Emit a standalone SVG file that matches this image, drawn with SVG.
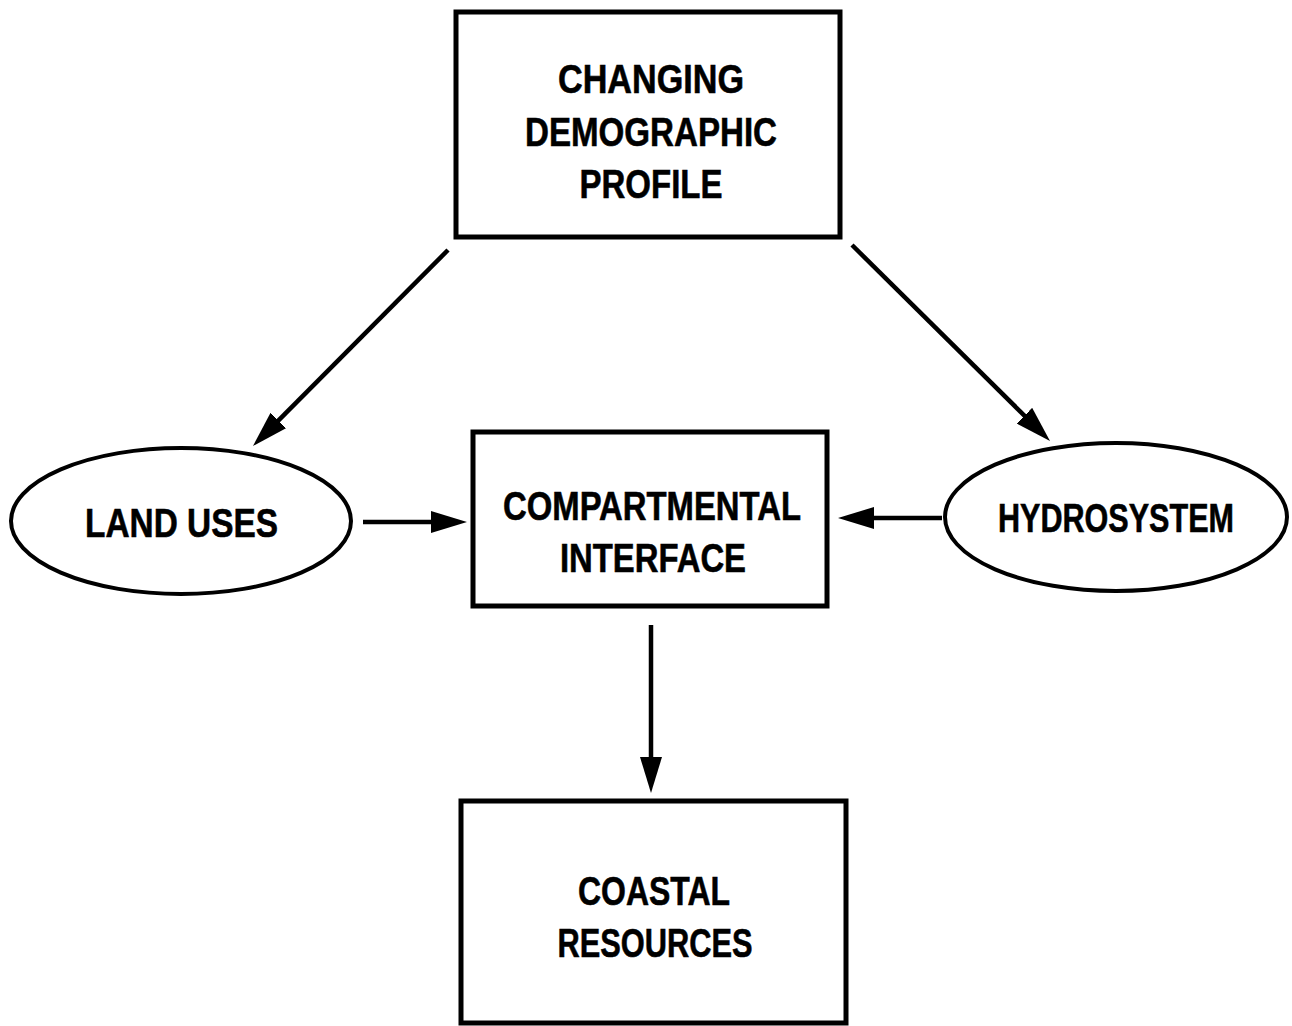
<svg xmlns="http://www.w3.org/2000/svg" width="1292" height="1026" viewBox="0 0 1292 1026">
<defs>
<style>
.box{fill:#fff;stroke:#000;stroke-width:5}
.ell{fill:#fff;stroke:#000;stroke-width:4}
.lbl{font-family:"Liberation Sans",Arial,sans-serif;font-weight:bold;font-size:41px;fill:#000;stroke:#000;stroke-width:0.6;text-anchor:middle}
.con{stroke:#000;stroke-width:4.5;fill:none;marker-end:url(#ah)}
</style>
<marker id="ah" markerUnits="userSpaceOnUse" markerWidth="36" markerHeight="22" refX="16" refY="11" orient="auto">
<path d="M0,0 L36,11 L0,22 z" fill="#000"/>
</marker>
</defs>
<rect width="1292" height="1026" fill="#fff"/>
<g id="connectors">
<line class="con" x1="448" y1="250" x2="267.1" y2="431.8"/>
<line class="con" x1="852" y1="245" x2="1035.8" y2="426.9"/>
<line class="con" x1="363" y1="522" x2="447" y2="522"/>
<line class="con" x1="942" y1="518" x2="858" y2="518"/>
<line class="con" x1="651" y1="625" x2="651" y2="773"/>
</g>
<g id="node-demographic">
<rect class="box" x="456" y="12" width="384" height="225"/>
<text class="lbl" x="651" y="93" textLength="186" lengthAdjust="spacingAndGlyphs">CHANGING</text>
<text class="lbl" x="651" y="146" textLength="252" lengthAdjust="spacingAndGlyphs">DEMOGRAPHIC</text>
<text class="lbl" x="651" y="198" textLength="143" lengthAdjust="spacingAndGlyphs">PROFILE</text>
</g>
<g id="node-landuses">
<ellipse class="ell" cx="181" cy="521" rx="170" ry="73"/>
<text class="lbl" x="181.5" y="537" textLength="193" lengthAdjust="spacingAndGlyphs">LAND USES</text>
</g>
<g id="node-compartmental">
<rect class="box" x="473" y="432" width="354" height="174"/>
<text class="lbl" x="652" y="520" textLength="298" lengthAdjust="spacingAndGlyphs">COMPARTMENTAL</text>
<text class="lbl" x="653" y="572" textLength="186" lengthAdjust="spacingAndGlyphs">INTERFACE</text>
</g>
<g id="node-hydrosystem">
<ellipse class="ell" cx="1116" cy="517" rx="171" ry="74"/>
<text class="lbl" x="1116" y="532" textLength="236" lengthAdjust="spacingAndGlyphs">HYDROSYSTEM</text>
</g>
<g id="node-coastal">
<rect class="box" x="461" y="801" width="385" height="222"/>
<text class="lbl" x="654" y="905" textLength="152" lengthAdjust="spacingAndGlyphs">COASTAL</text>
<text class="lbl" x="655" y="957" textLength="195" lengthAdjust="spacingAndGlyphs">RESOURCES</text>
</g>
</svg>
